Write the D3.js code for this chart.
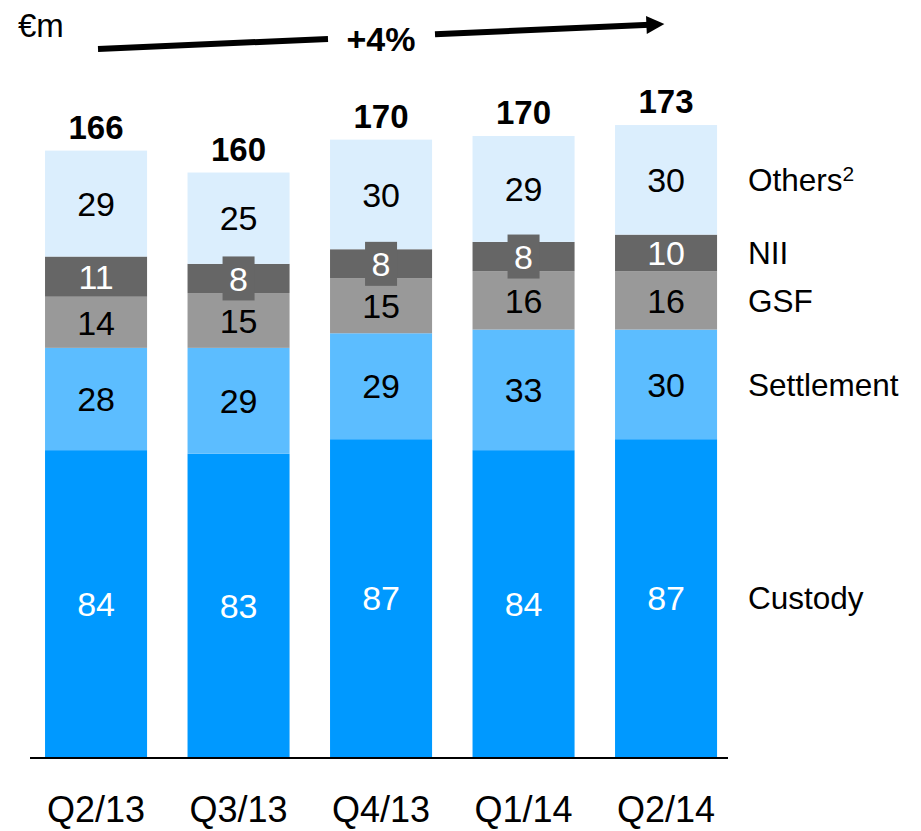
<!DOCTYPE html>
<html>
<head>
<meta charset="utf-8">
<script src="https://cdn.jsdelivr.net/npm/d3@7"></script>
<style>
  body { margin: 0; background: #fff; }
  text { font-family: Arial, "Liberation Sans", sans-serif; }
</style>
</head>
<body>
<div id="chart"></div>
<script>
// Data
const quarters = ["Q2/13", "Q3/13", "Q4/13", "Q1/14", "Q2/14"];
const seriesNames = ["Custody", "Settlement", "GSF", "NII", "Others"];
const custody = [84, 83, 87, 84, 87];
const settlement = [28, 29, 29, 33, 30];
const gsf = [14, 15, 15, 16, 16];
const nii = [11, 8, 8, 8, 10];
const others = [29, 25, 30, 29, 30];
const totals = [166, 160, 170, 170, 173];
const growthLabel = "+4%";
const unitLabel = "€m";

const colors = {
    Custody: "#0099ff",
    Settlement: "#5cbdff",
    GSF: "#999999",
    NII: "#666666",
    Others: "#dbeefd"
};
const labelColors = {
    Custody: "#ffffff",
    Settlement: "#000000",
    GSF: "#000000",
    NII: "#ffffff",
    Others: "#000000"
};

const width = 921, height = 831;
const baseY = 757;

const svg = d3.select("#chart")
    .append("svg")
    .attr("width", width)
    .attr("height", height);

// build rows for the stack
const rows = quarters.map((q, i) => ({
    quarter: q,
    Custody: custody[i],
    Settlement: settlement[i],
    GSF: gsf[i],
    NII: nii[i],
    Others: others[i]
}));

const stack = d3.stack().keys(seriesNames)(rows);

const x = d3.scaleBand()
    .domain(quarters)
    .range([24.8, 737.3])
    .paddingInner(0.284)
    .paddingOuter(0.142);

const y = d3.scaleLinear()
    .domain([0, 180])
    .range([baseY, baseY - 180 * 3.653]);

// bars
const layers = svg.append("g")
    .selectAll("g")
    .data(stack)
    .enter()
    .append("g")
    .attr("fill", d => colors[d.key]);

layers.selectAll("rect")
    .data(d => d)
    .enter()
    .append("rect")
    .attr("x", d => x(d.data.quarter))
    .attr("y", d => y(d[1]))
    .attr("width", x.bandwidth())
    .attr("height", d => y(d[0]) - y(d[1]));

// segment value labels
stack.forEach(layer => {
    const g = svg.append("g");
    layer.forEach(d => {
        const cx = x(d.data.quarter) + x.bandwidth() / 2;
        const cy = (y(d[0]) + y(d[1])) / 2;
        const segH = y(d[0]) - y(d[1]);
        const val = d[1] - d[0];
        // small segments get a box behind the label
        if (segH < 34) {
            g.append("rect")
                .attr("x", cx - 16)
                .attr("y", cy - 22)
                .attr("width", 32)
                .attr("height", 44)
                .attr("fill", colors[layer.key]);
        }
        g.append("text")
            .attr("x", cx)
            .attr("y", cy)
            .attr("dy", "0.36em")
            .attr("text-anchor", "middle")
            .attr("font-size", 34)
            .attr("fill", labelColors[layer.key])
            .text(val);
    });
});

// totals
svg.append("g")
    .selectAll("text")
    .data(quarters)
    .enter()
    .append("text")
    .attr("x", d => x(d) + x.bandwidth() / 2)
    .attr("y", (d, i) => y(d3.sum(stack, s => s[i][1] - s[i][0])) - 12)
    .attr("text-anchor", "middle")
    .attr("font-size", 33)
    .attr("font-weight", "bold")
    .attr("fill", "#000")
    .text((d, i) => totals[i]);

// baseline
svg.append("line")
    .attr("x1", 30)
    .attr("x2", 728)
    .attr("y1", baseY + 1)
    .attr("y2", baseY + 1)
    .attr("stroke", "#000")
    .attr("stroke-width", 2);

// category axis
const xAxis = svg.append("g")
    .attr("transform", `translate(0,${baseY})`)
    .call(d3.axisBottom(x).tickSize(0).tickPadding(0));
xAxis.select(".domain").remove();
xAxis.selectAll("text")
    .attr("y", 65)
    .attr("dy", 0)
    .attr("font-size", 36)
    .attr("font-family", "Arial, 'Liberation Sans', sans-serif")
    .attr("fill", "#000");

// series labels on the right, next to the last bar
const last = quarters.length - 1;
const seriesLabels = svg.append("g");
stack.forEach(layer => {
    const d = layer[last];
    const t = seriesLabels.append("text")
        .attr("x", 748)
        .attr("y", (y(d[0]) + y(d[1])) / 2)
        .attr("dy", "0.36em")
        .attr("font-size", 31.5)
        .attr("fill", "#000")
        .text(layer.key);
    if (layer.key === "Others") {
        t.append("tspan")
            .attr("font-size", 21)
            .attr("dy", "-0.5em")
            .text("2");
    }
});

// unit
svg.append("text")
    .attr("x", 18)
    .attr("y", 37)
    .attr("font-size", 33)
    .attr("fill", "#000")
    .text(unitLabel);

// growth arrow
const defs = svg.append("defs");
defs.append("marker")
    .attr("id", "arrow")
    .attr("viewBox", "0 0 10 10")
    .attr("refX", 2)
    .attr("refY", 5)
    .attr("markerWidth", 4)
    .attr("markerHeight", 3)
    .attr("orient", "auto")
    .attr("markerUnits", "strokeWidth")
    .append("path")
    .attr("d", "M0,0 L10,5 L0,10 Z")
    .attr("fill", "#000");

const ax0 = 98, ay0 = 49, ax1 = 667, ay1 = 24;
const lineY = xv => ay0 + (ay1 - ay0) * (xv - ax0) / (ax1 - ax0);

svg.append("line")
    .attr("x1", ax0).attr("y1", ay0)
    .attr("x2", 328).attr("y2", lineY(328))
    .attr("stroke", "#000")
    .attr("stroke-width", 6);

svg.append("line")
    .attr("x1", 435).attr("y1", lineY(435))
    .attr("x2", 650).attr("y2", lineY(650))
    .attr("stroke", "#000")
    .attr("stroke-width", 6)
    .attr("marker-end", "url(#arrow)");

svg.append("text")
    .attr("x", 381)
    .attr("y", 51)
    .attr("text-anchor", "middle")
    .attr("font-size", 34)
    .attr("font-weight", "bold")
    .attr("fill", "#000")
    .text(growthLabel);
</script>
</body>
</html>
